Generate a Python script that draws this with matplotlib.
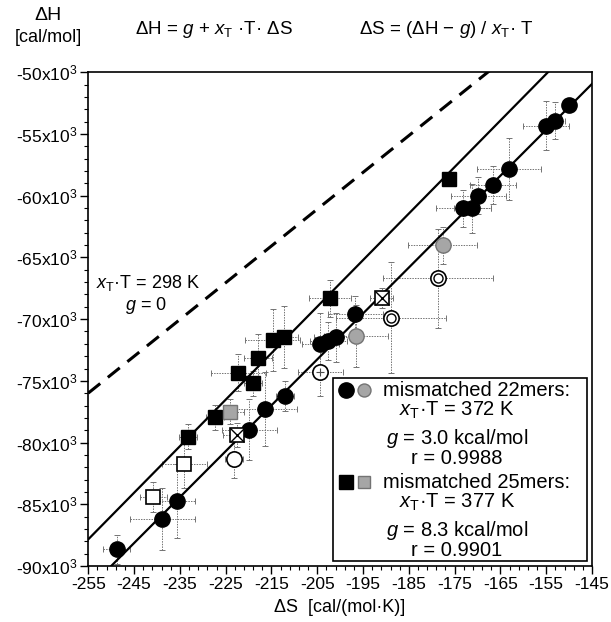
import matplotlib
matplotlib.use("Agg")
import matplotlib.pyplot as plt
import numpy as np
from matplotlib.patches import Rectangle

plt.rcParams['font.family'] = ['Liberation Sans', 'DejaVu Sans']
plt.rcParams['mathtext.fontset'] = 'custom'
plt.rcParams['mathtext.rm'] = 'Liberation Sans'
plt.rcParams['mathtext.it'] = 'Liberation Sans:italic'
plt.rcParams['mathtext.bf'] = 'Liberation Sans:bold'

# ---------------- data ----------------
# mismatched 22mers, filled circles
c22_ds = [-150.0, -153.0, -155.1, -163.2, -166.6, -169.8, -173.1, -171.1, -196.7,
          -200.8, -202.6, -204.3, -212.0, -216.5, -219.9, -235.6, -238.8, -248.8]
c22_dh = [-52650, -53920, -54330, -57810, -59130, -60000, -61020, -61020, -69610,
          -71470, -71770, -72040, -76210, -77270, -78950, -84740, -86200, -88650]
c22_xerr = [1.5, 2, 5, 7, 5, 6, 6, 4, 6, 5, 4, 4, 2, 7, 6, 4, 7, 3]
c22_yerr = [600, 1500, 2000, 2500, 1500, 1500, 1500, 2000, 1500, 2000, 1500, 2500,
            1200, 3000, 2500, 3000, 2500, 1200]

# mismatched 22mers, speckled circles
c22g_ds = [-177.6, -196.5]
c22g_dh = [-64000, -71370]
c22g_xerr = [7.5, 7]
c22g_yerr = [1500, 2500]

# 22mers, open double circles
c22d_ds = [-178.6, -188.9]
c22d_dh = [-66690, -69890]
c22d_xerr = [12, 12]
c22d_yerr = [4000, 4500]

# 22mers, open circle with cross
c22p_ds = [-204.3]
c22p_dh = [-74260]
c22p_xerr = [5]
c22p_yerr = [2000]

# 22mers, plain open circle
c22o_ds = [-223.2]
c22o_dh = [-81360]
c22o_xerr = [2]
c22o_yerr = [1500]

# mismatched 25mers, filled squares
s25_ds = [-176.3, -202.2, -212.2, -214.7, -217.9, -222.2, -219.1, -227.3, -233.2]
s25_dh = [-58650, -68310, -71450, -71690, -73180, -74340, -75200, -77960, -79510]
s25_xerr = [1, 4.5, 3, 6, 3, 6, 2, 2, 2]
s25_yerr = [600, 1500, 2500, 2500, 2000, 1500, 1000, 1000, 1000]

# 25mers, speckled square
s25g_ds = [-224.1]
s25g_dh = [-77500]
s25g_xerr = [3]
s25g_yerr = [1000]

# 25mers, crossed squares
s25x_ds = [-190.9, -222.5]
s25x_dh = [-68310, -79390]
s25x_xerr = [2.5, 3]
s25x_yerr = [800, 1000]

# 25mers, open squares
s25o_ds = [-234.0, -240.8]
s25o_dh = [-81710, -84390]
s25o_xerr = [5, 3]
s25o_yerr = [2000, 1200]

# fitted lines and reference line: dH = g + xT*dS
fit_g = [3000, 8300]
fit_xT = [372, 377]
ref_g = 0
ref_xT = 298

x_ticks = [-255, -245, -235, -225, -215, -205, -195, -185, -175, -165, -155, -145]
y_ticks = [-90000, -85000, -80000, -75000, -70000, -65000, -60000, -55000, -50000]
y_ticklabels = ['-90x10$^3$', '-85x10$^3$', '-80x10$^3$', '-75x10$^3$', '-70x10$^3$',
                '-65x10$^3$', '-60x10$^3$', '-55x10$^3$', '-50x10$^3$']

# ---------------- figure ----------------
W, H = 611, 622
fig = plt.figure(figsize=(W / 100, H / 100), dpi=100)
L, R, T, B = 88.3, 592, 72.3, 566
ax = fig.add_axes([L / W, 1 - B / H, (R - L) / W, (B - T) / H])


def fp(x, y):
    return x / W, 1 - y / H


ax.set_xlim(-255, -145)
ax.set_ylim(-90000, -50000)

xx = np.array([-255, -145])
for g, xt in zip(fit_g, fit_xT):
    ax.plot(xx, g + xt * xx, color='black', lw=1.6, zorder=2)
ax.plot(xx, ref_g + ref_xT * xx, color='black', lw=2.2, ls=(0, (5, 3.2)), zorder=2)


def eb(xs, ys, xe, ye):
    cont = ax.errorbar(xs, ys, xerr=xe, yerr=ye, fmt='none', ecolor='0.45',
                       elinewidth=0.7, capsize=2, capthick=0.7, zorder=1)
    for lc in cont[2]:
        lc.set_linestyle((0, (1.5, 1.2)))


for xs, ys, xe, ye in [(c22_ds, c22_dh, c22_xerr, c22_yerr),
                       (c22g_ds, c22g_dh, c22g_xerr, c22g_yerr),
                       (c22d_ds, c22d_dh, c22d_xerr, c22d_yerr),
                       (c22p_ds, c22p_dh, c22p_xerr, c22p_yerr),
                       (c22o_ds, c22o_dh, c22o_xerr, c22o_yerr),
                       (s25_ds, s25_dh, s25_xerr, s25_yerr),
                       (s25g_ds, s25g_dh, s25g_xerr, s25g_yerr),
                       (s25x_ds, s25x_dh, s25x_xerr, s25x_yerr),
                       (s25o_ds, s25o_dh, s25o_xerr, s25o_yerr)]:
    eb(xs, ys, xe, ye)

ms = 11
ax.plot(c22_ds, c22_dh, 'o', ms=ms, color='black', mec='black', zorder=4)
ax.plot(c22g_ds, c22g_dh, 'o', ms=ms, mfc='0.65', mec='0.45', mew=1, zorder=4)
ax.plot(c22d_ds, c22d_dh, 'o', ms=ms, mfc='white', mec='black', mew=1.2, zorder=4)
ax.plot(c22d_ds, c22d_dh, 'o', ms=6.5, mfc='white', mec='black', mew=1.0, zorder=5)
ax.plot(c22p_ds, c22p_dh, 'o', ms=ms, mfc='white', mec='black', mew=1.2, zorder=4)
ax.plot(c22p_ds, c22p_dh, '+', ms=6, mec='0.3', mew=0.8, zorder=5)
ax.plot(c22o_ds, c22o_dh, 'o', ms=ms, mfc='white', mec='black', mew=1.2, zorder=4)

mss = 10
ax.plot(s25_ds, s25_dh, 's', ms=mss, color='black', zorder=4)
ax.plot(s25g_ds, s25g_dh, 's', ms=mss, mfc='0.65', mec='0.45', mew=1, zorder=4)
ax.plot(s25x_ds, s25x_dh, 's', ms=mss, mfc='white', mec='black', mew=1.2, zorder=4)
ax.plot(s25x_ds, s25x_dh, 'x', ms=mss * 0.95, mec='black', mew=1.0, zorder=5)
ax.plot(s25o_ds, s25o_dh, 's', ms=mss, mfc='white', mec='black', mew=1.2, zorder=4)

# axes styling
ax.set_xticks(x_ticks)
ax.set_xticklabels([str(v) for v in x_ticks])
ax.set_yticks(y_ticks)
ax.set_yticklabels(y_ticklabels)
ax.set_xticks(np.arange(-255, -144, 2), minor=True)
ax.set_yticks(np.arange(-90000, -49999, 1000), minor=True)
ax.tick_params(axis='both', which='major', direction='out', length=6, width=1,
               labelsize=12.5, pad=2)
ax.tick_params(axis='both', which='minor', direction='out', length=3, width=0.8)
for sp in ax.spines.values():
    sp.set_linewidth(1.2)

# texts
fig.text(*fp(48, 16), 'ΔH', ha='center', va='center', fontsize=14)
fig.text(*fp(48, 38), '[cal/mol]', ha='center', va='center', fontsize=13)
fig.text(*fp(214, 30), r'ΔH = $g$ + $x_{\mathrm{T}}$ ·T· ΔS', ha='center',
         va='center', fontsize=13.5)
fig.text(*fp(446, 30), r'ΔS = (ΔH − $g$) / $x_{\mathrm{T}}$· T', ha='center',
         va='center', fontsize=13.5)
fig.text(*fp(340, 607), 'ΔS  [cal/(mol·K)]', ha='center', va='center', fontsize=13)
fig.text(*fp(148, 283), r'$x_{\mathrm{T}}$·T = 298 K', ha='center', va='center',
         fontsize=13)
fig.text(*fp(146, 306), r'$g$ = 0', ha='center', va='center', fontsize=13)

# legend box
x0, y0, x1, y1 = 333, 378, 587, 561
fig.patches.append(Rectangle(fp(x0, y1), (x1 - x0) / W, (y1 - y0) / H,
                             transform=fig.transFigure, fill=True, fc='white',
                             ec='black', lw=1.2, zorder=6))
lx1, lx2 = 346, 364
fig.lines.append(plt.Line2D([lx1 / W], [1 - 390 / H], marker='o', ms=ms, color='black',
                            transform=fig.transFigure, zorder=7))
fig.lines.append(plt.Line2D([lx2 / W], [1 - 390 / H], marker='o', ms=ms * 0.85,
                            mfc='0.65', mec='0.45', transform=fig.transFigure, zorder=7))
fig.lines.append(plt.Line2D([lx1 / W], [1 - 482 / H], marker='s', ms=mss * 0.95,
                            color='black', transform=fig.transFigure, zorder=7))
fig.lines.append(plt.Line2D([lx2 / W], [1 - 482 / H], marker='s', ms=mss * 0.8,
                            mfc='0.65', mec='0.45', transform=fig.transFigure, zorder=7))
fs = 14.5
tx = 457
fig.text(*fp(383, 391), 'mismatched 22mers:', ha='left', va='center', fontsize=fs, zorder=8)
fig.text(*fp(tx, 410), r'$x_{\mathrm{T}}$·T = 372 K', ha='center', va='center',
         fontsize=fs, zorder=8)
fig.text(*fp(tx, 438), r'$g$ = 3.0 kcal/mol', ha='center', va='center', fontsize=fs, zorder=8)
fig.text(*fp(tx, 458), 'r = 0.9988', ha='center', va='center', fontsize=fs, zorder=8)
fig.text(*fp(383, 483), 'mismatched 25mers:', ha='left', va='center', fontsize=fs, zorder=8)
fig.text(*fp(tx, 502), r'$x_{\mathrm{T}}$·T = 377 K', ha='center', va='center',
         fontsize=fs, zorder=8)
fig.text(*fp(tx, 531), r'$g$ = 8.3 kcal/mol', ha='center', va='center', fontsize=fs, zorder=8)
fig.text(*fp(tx, 551), 'r = 0.9901', ha='center', va='center', fontsize=fs, zorder=8)

fig.savefig('out.png', dpi=100)
